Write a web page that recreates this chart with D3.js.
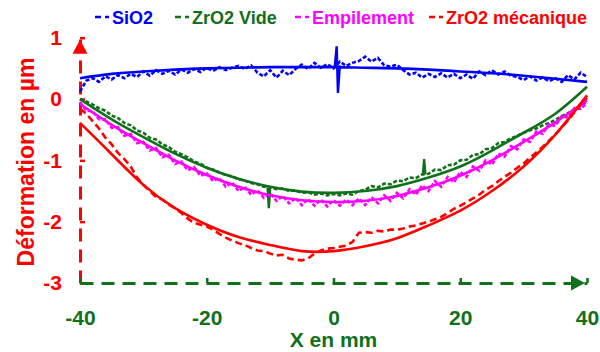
<!DOCTYPE html>
<html><head><meta charset="utf-8">
<script src="https://cdn.jsdelivr.net/npm/d3@7"></script>
<style>body{margin:0;background:#fff}svg{display:block}</style>
</head><body><svg id="c" width="600" height="352"></svg>
<script>
// ---- data (mm / µm) ----
const xData = d3.range(-40, 41, 1);
const sio2Data = [0.12,0.30,0.34,0.28,0.37,0.32,0.39,0.34,0.41,0.36,0.45,0.38,0.47,0.41,0.46,0.40,0.48,0.43,0.49,0.44,0.51,0.46,0.52,0.47,0.51,0.54,0.49,0.55,0.43,0.37,0.47,0.35,0.46,0.39,0.49,0.56,0.49,0.59,0.51,0.57,0.50,0.61,0.54,0.59,0.62,0.69,0.61,0.67,0.55,0.53,0.56,0.47,0.40,0.43,0.35,0.41,0.36,0.42,0.35,0.41,0.34,0.40,0.33,0.45,0.39,0.47,0.40,0.45,0.38,0.36,0.31,0.37,0.30,0.35,0.29,0.34,0.28,0.39,0.32,0.43,0.36];
const zrVideData = [0.0,-0.04,-0.09,-0.15,-0.19,-0.27,-0.31,-0.39,-0.43,-0.51,-0.55,-0.63,-0.66,-0.74,-0.78,-0.86,-0.90,-0.95,-1.02,-1.05,-1.12,-1.15,-1.20,-1.24,-1.26,-1.31,-1.33,-1.37,-1.39,-1.43,-1.44,-1.47,-1.46,-1.50,-1.49,-1.53,-1.52,-1.56,-1.54,-1.57,-1.55,-1.57,-1.54,-1.56,-1.50,-1.48,-1.42,-1.44,-1.38,-1.39,-1.33,-1.34,-1.28,-1.29,-1.23,-1.22,-1.15,-1.16,-1.08,-1.07,-1.00,-0.99,-0.91,-0.90,-0.82,-0.80,-0.72,-0.70,-0.64,-0.60,-0.55,-0.51,-0.48,-0.43,-0.39,-0.34,-0.28,-0.23,-0.17,-0.11,-0.04];
const empilData = [-0.05,-0.19,-0.20,-0.33,-0.33,-0.47,-0.46,-0.60,-0.57,-0.72,-0.70,-0.84,-0.80,-0.95,-0.91,-1.06,-1.02,-1.16,-1.11,-1.25,-1.21,-1.34,-1.29,-1.43,-1.36,-1.50,-1.43,-1.56,-1.49,-1.61,-1.54,-1.66,-1.58,-1.70,-1.61,-1.73,-1.63,-1.74,-1.64,-1.75,-1.65,-1.74,-1.64,-1.73,-1.62,-1.73,-1.60,-1.70,-1.57,-1.66,-1.53,-1.62,-1.47,-1.56,-1.41,-1.50,-1.34,-1.43,-1.27,-1.36,-1.19,-1.27,-1.10,-1.17,-1.00,-1.07,-0.89,-0.94,-0.77,-0.82,-0.66,-0.70,-0.53,-0.57,-0.41,-0.44,-0.28,-0.30,-0.15,-0.16,-0.06];
const zrMecaData = [-0.16,-0.24,-0.36,-0.48,-0.63,-0.74,-0.88,-0.98,-1.10,-1.28,-1.40,-1.50,-1.60,-1.64,-1.72,-1.78,-1.86,-1.95,-2.02,-2.05,-2.08,-2.13,-2.20,-2.26,-2.31,-2.35,-2.38,-2.43,-2.47,-2.48,-2.52,-2.55,-2.54,-2.60,-2.62,-2.63,-2.60,-2.52,-2.47,-2.44,-2.43,-2.41,-2.39,-2.33,-2.18,-2.17,-2.18,-2.15,-2.16,-2.13,-2.13,-2.11,-2.08,-2.06,-2.03,-2.00,-1.96,-1.92,-1.86,-1.79,-1.74,-1.68,-1.62,-1.56,-1.48,-1.42,-1.34,-1.27,-1.20,-1.12,-1.05,-0.96,-0.87,-0.78,-0.68,-0.58,-0.46,-0.35,-0.22,-0.10,0.02];
// sharp spikes in the measured profiles [x, y]
const sio2Spike = [[0.2,0.52],[0.5,0.86],[0.7,0.10],[1.0,0.55]];
const zrVideSpikeA = [[-10.4,-1.44],[-10.2,-1.78],[-10.0,-1.45]];
const zrVideSpikeB = [[14.1,-1.24],[14.3,-0.98],[14.5,-1.23]];
// polynomial fits, read every 5 mm
const xFit = [-40,-35,-30,-25,-20,-15,-10,-5,0,5,10,15,20,25,30,35,40];
const sio2Fit = [0.34,0.41,0.45,0.48,0.50,0.51,0.52,0.52,0.52,0.51,0.50,0.48,0.45,0.42,0.38,0.33,0.28];
const zrVideFit = [0.0,-0.33,-0.62,-0.89,-1.12,-1.30,-1.43,-1.51,-1.53,-1.50,-1.42,-1.28,-1.10,-0.84,-0.55,-0.24,0.20];
const empilFit = [-0.08,-0.42,-0.72,-1.00,-1.24,-1.43,-1.57,-1.65,-1.68,-1.66,-1.58,-1.44,-1.25,-1.00,-0.70,-0.38,-0.02];
const zrMecaFit = [-0.39,-0.90,-1.40,-1.78,-2.05,-2.25,-2.38,-2.48,-2.48,-2.40,-2.27,-2.06,-1.82,-1.50,-1.10,-0.58,0.06];
const xTicks = [-40,-20,0,20,40];
const yTicks = [1,0,-1,-2,-3];
const names = ["SiO2","ZrO2 Vide","Empilement","ZrO2 mécanique"];
const colors = ["#0000ff","#11701a","#ff00ff","#ff0000"];
const GREEN = "#11701a", RED = "#ff0000";

const svg = d3.select("#c");
const FONT = "'Liberation Sans', Arial, sans-serif";
const x = d3.scaleLinear().domain([-40,40]).range([80,587]);
const y = d3.scaleLinear().domain([-3,1]).range([283,37.7]);

// axes
const yAx = svg.append("g").attr("transform",`translate(${x(-40)},0)`)
  .call(d3.axisLeft(y).tickValues(yTicks).tickSize(-5).tickSizeOuter(0).tickPadding(18));
yAx.select(".domain").attr("stroke",RED).attr("stroke-width",3).attr("stroke-dasharray","13,8");
yAx.selectAll(".tick line").attr("stroke",RED).attr("stroke-width",2.5);
yAx.selectAll(".tick text").attr("fill",RED).attr("font-family",FONT).attr("font-weight","bold").attr("font-size",21);

const xAx = svg.append("g").attr("transform",`translate(0,${y(-3)})`)
  .call(d3.axisBottom(x).tickValues(xTicks).tickSize(-5).tickSizeOuter(0).tickPadding(27));
xAx.select(".domain").attr("stroke",GREEN).attr("stroke-width",3).attr("stroke-dasharray","13,8");
xAx.selectAll(".tick line").attr("stroke",GREEN).attr("stroke-width",2.5);
xAx.selectAll(".tick text").attr("fill",GREEN).attr("font-family",FONT).attr("font-weight","bold").attr("font-size",21);
svg.selectAll(".tick text").text(function(d){return String(d);});

// arrowheads
const ax0 = x(-40), ayTop = y(1)+2;
svg.append("path").attr("d",`M${ax0},${ayTop}L${ax0-7.5},${ayTop+14}L${ax0+7.5},${ayTop+14}Z`).attr("fill",RED);
const axR = x(40)-2, ay0 = y(-3);
svg.append("path").attr("d",`M${axR},${ay0}L${axR-14},${ay0-7.5}L${axR-14},${ay0+7.5}Z`).attr("fill",GREEN);

// axis titles
svg.append("text").attr("transform",`translate(34,162) rotate(-90)`).attr("text-anchor","middle")
  .attr("font-family",FONT).attr("font-weight","bold").attr("font-size",23).attr("fill",RED).text("Déformation en µm");
svg.append("text").attr("x",x(0)).attr("y",347).attr("text-anchor","middle")
  .attr("font-family",FONT).attr("font-weight","bold").attr("font-size",21).attr("fill",GREEN).text("X en mm");

// series
const line = d3.line().x(d=>x(d[0])).y(d=>y(d[1]));
const smooth = d3.line().x(d=>x(d[0])).y(d=>y(d[1])).curve(d3.curveNatural);
const dataSets = [sio2Data, zrVideData, empilData, zrMecaData];
const fitSets = [sio2Fit, zrVideFit, empilFit, zrMecaFit];
const dashes = ["4,2","4,2","4,2","7,4"];
dataSets.forEach((ys,i)=>{
  svg.append("path").attr("d",line(xData.map((v,j)=>[v,ys[j]])))
    .attr("fill","none").attr("stroke",colors[i]).attr("stroke-width",2.6).attr("stroke-dasharray",dashes[i]);
});
[[sio2Spike,0],[zrVideSpikeA,1],[zrVideSpikeB,1]].forEach(([pts,i])=>{
  svg.append("path").attr("d",line(pts)).attr("fill","none").attr("stroke",colors[i]).attr("stroke-width",2.4);
});
fitSets.forEach((ys,i)=>{
  svg.append("path").attr("d",smooth(xFit.map((v,j)=>[v,ys[j]])))
    .attr("fill","none").attr("stroke",colors[i]).attr("stroke-width",2.6);
});

// legend
const legX = [95,175,295,429];
names.forEach((n,i)=>{
  const g = svg.append("g").attr("transform",`translate(${legX[i]},17)`);
  g.append("line").attr("x1",0).attr("x2",14).attr("y1",0).attr("y2",0)
    .attr("stroke",colors[i]).attr("stroke-width",2.6).attr("stroke-dasharray","6,4,4,100");
  g.append("text").attr("x",17).attr("y",7).attr("font-family",FONT).attr("font-weight","bold")
    .attr("font-size",18).attr("fill",colors[i]).text(n);
});
</script></body></html>
